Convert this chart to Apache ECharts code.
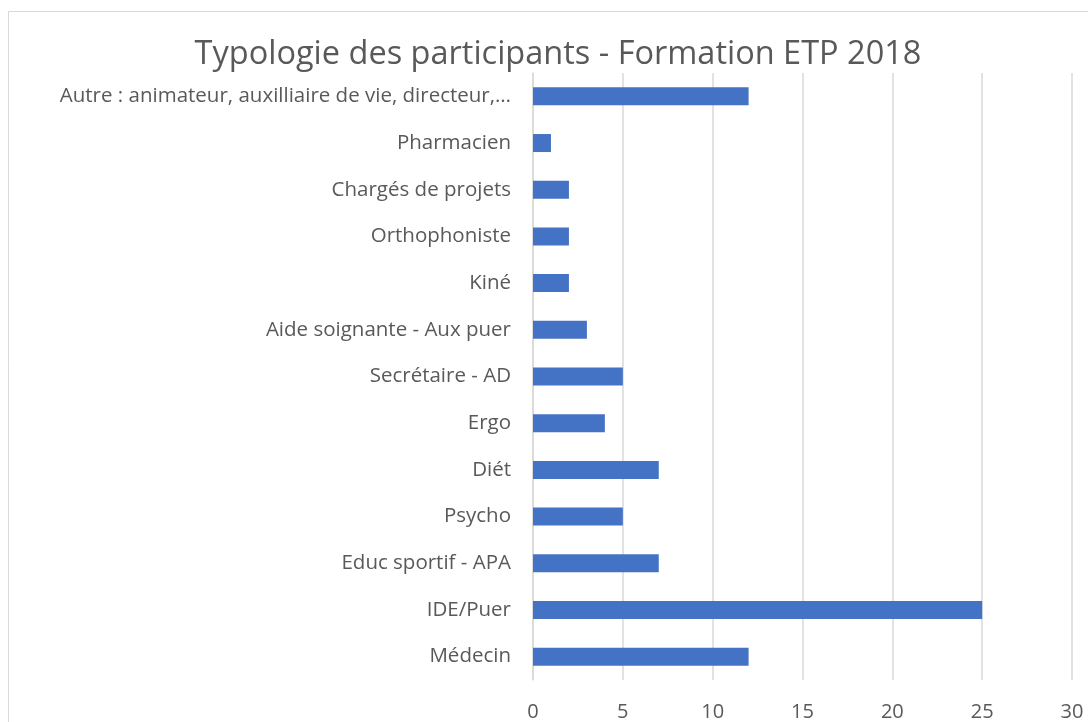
<!DOCTYPE html>
<html>
<head>
<meta charset="utf-8">
<script src="https://cdn.jsdelivr.net/npm/echarts@6/dist/echarts.min.js"></script>
<style>
  html, body { margin: 0; padding: 0; background: #fff; }
  #chart { width: 1088px; height: 722px; }
</style>
</head>
<body>
<div id="chart"></div>
<script>
// categories from bottom to top, as on the chart
const categories = [
  'Médecin',
  'IDE/Puer',
  'Educ sportif - APA',
  'Psycho',
  'Diét',
  'Ergo',
  'Secrétaire - AD',
  'Aide soignante - Aux puer',
  'Kiné',
  'Orthophoniste',
  'Chargés de projets',
  'Pharmacien',
  'Autre : animateur, auxilliaire de vie, directeur,…'
]
const participants = [12, 25, 7, 5, 7, 4, 5, 3, 2, 2, 2, 1, 12]

const chart = echarts.init(document.getElementById('chart'))

const options = {
  backgroundColor: '#fff',
  animation: false,
  textStyle: { fontFamily: 'Open Sans' },
  graphic: [{
    type: 'rect',
    shape: { x: 8.5, y: 11.5, width: 1200, height: 800 },
    style: { fill: 'none', stroke: '#d9d9d9', lineWidth: 1 },
    silent: true
  }],
  title: {
    text: 'Typologie des participants - Formation ETP 2018',
    left: 553,
    top: 33,
    textAlign: 'center',
    textStyle: { fontFamily: 'Open Sans', fontSize: 32.5, fontWeight: 'normal', color: '#595959' }
  },
  grid: {
    left: 533,
    right: 16,
    top: 73,
    bottom: 42,
    containLabel: false
  },
  xAxis: {
    type: 'value',
    min: 0,
    max: 30,
    interval: 5,
    axisLine: { show: false },
    axisTick: { show: false },
    splitLine: { lineStyle: { color: '#d9d9d9', width: 1.5 } },
    axisLabel: { color: '#595959', fontSize: 20, margin: 22, fontFamily: 'Open Sans' }
  },
  yAxis: {
    type: 'category',
    data: categories,
    axisLine: { lineStyle: { color: '#d9d9d9', width: 1.5 } },
    axisTick: { show: false },
    axisLabel: { color: '#595959', fontSize: 20.5, margin: 22, fontFamily: 'Open Sans' }
  },
  series: [{
    type: 'bar',
    data: participants,
    barWidth: 18,
    itemStyle: { color: '#4472c4' }
  }]
}

chart.setOption(options)
</script>
</body>
</html>
